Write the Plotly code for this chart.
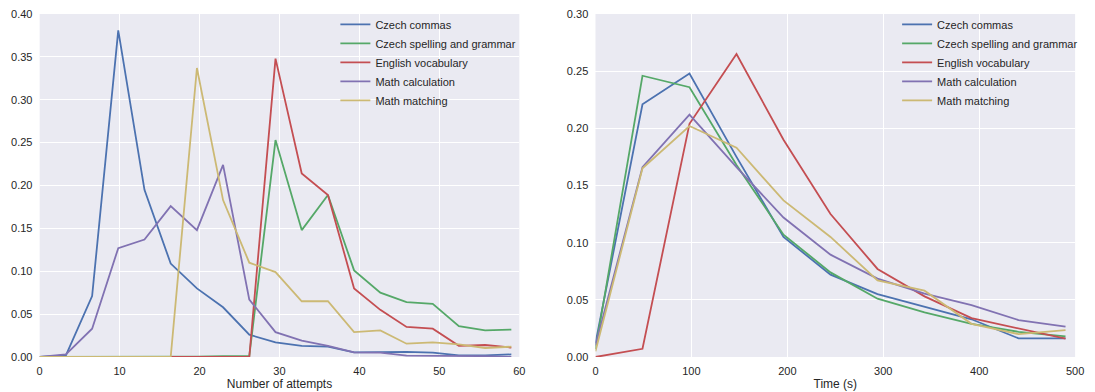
import plotly.graph_objects as go

series_names = ["Czech commas", "Czech spelling and grammar", "English vocabulary",
                "Math calculation", "Math matching"]
colors = ["#4C72B0", "#55A868", "#C44E52", "#8172B2", "#CCB974"]

# Left panel: number of attempts
attempts = [0, 3.28, 6.56, 9.83, 13.11, 16.39, 19.67, 22.94, 26.22, 29.5,
            32.78, 36.06, 39.33, 42.61, 45.89, 49.17, 52.44, 55.72, 59.0]
att_commas = [0.0, 0.002, 0.071, 0.381, 0.195, 0.109, 0.080, 0.058, 0.026, 0.017,
              0.013, 0.012, 0.0055, 0.0055, 0.006, 0.005, 0.002, 0.002, 0.003]
att_spelling = [0.0, 0.0, 0.0, 0.0, 0.0, 0.0, 0.0005, 0.001, 0.001, 0.253,
                0.148, 0.189, 0.101, 0.075, 0.064, 0.062, 0.036, 0.031, 0.032]
att_vocab = [0.0, 0.0, 0.0, 0.0, 0.0, 0.0, 0.0, 0.0, 0.0, 0.348,
             0.214, 0.189, 0.080, 0.055, 0.035, 0.033, 0.013, 0.014, 0.011]
att_calc = [0.0, 0.003, 0.033, 0.127, 0.137, 0.176, 0.148, 0.224, 0.067, 0.029,
            0.019, 0.013, 0.0055, 0.005, 0.0016, 0.0015, 0.001, 0.001, 0.0]
att_matching = [0.0, 0.0, 0.0, 0.0, 0.0, 0.0, 0.337, 0.183, 0.110, 0.099,
                0.065, 0.065, 0.029, 0.031, 0.0155, 0.017, 0.0147, 0.0105, 0.012]

# Right panel: time
times = [0, 49, 98, 147, 196, 245, 294, 343, 392, 441, 490]
time_commas = [0.012, 0.221, 0.248, 0.175, 0.105, 0.072, 0.055, 0.044, 0.033, 0.0163, 0.0163]
time_spelling = [0.007, 0.246, 0.236, 0.168, 0.107, 0.074, 0.051, 0.039, 0.029, 0.022, 0.018]
time_vocab = [0.0, 0.0072, 0.204, 0.265, 0.190, 0.125, 0.077, 0.053, 0.034, 0.025, 0.016]
time_calc = [0.010, 0.166, 0.212, 0.166, 0.122, 0.0895, 0.0686, 0.0555, 0.0453, 0.0323, 0.0265]
time_matching = [0.005, 0.165, 0.202, 0.183, 0.137, 0.105, 0.067, 0.058, 0.029, 0.020, 0.0235]

# tick values
left_xticks = [0, 10, 20, 30, 40, 50, 60]
left_yticks = [0.0, 0.05, 0.10, 0.15, 0.20, 0.25, 0.30, 0.35, 0.40]
right_xticks = [0, 100, 200, 300, 400, 500]
right_yticks = [0.0, 0.05, 0.10, 0.15, 0.20, 0.25, 0.30]

left_y = [att_commas, att_spelling, att_vocab, att_calc, att_matching]
right_y = [time_commas, time_spelling, time_vocab, time_calc, time_matching]

# page has an 8px body margin, so the figure is sized to fit inside the window
W, H = 1087, 384
fig = go.Figure()
for name, c, ys in zip(series_names, colors, left_y):
    fig.add_trace(go.Scatter(x=attempts, y=ys, mode="lines", name=name,
                             line=dict(color=c, width=1.8), xaxis="x", yaxis="y",
                             legend="legend"))
for name, c, ys in zip(series_names, colors, right_y):
    fig.add_trace(go.Scatter(x=times, y=ys, mode="lines", name=name,
                             line=dict(color=c, width=1.8), xaxis="x2", yaxis="y2",
                             legend="legend2"))

font_col = "#262626"
axis_common = dict(showgrid=True, gridcolor="white", gridwidth=1, zeroline=False,
                   showline=False, ticks="outside", ticklen=4, tickcolor="rgba(0,0,0,0)",
                   tickfont=dict(size=11, color=font_col), tickmode="array",
                   ticklabeloverflow="allow")

fig.update_layout(
    width=W, height=H,
    margin=dict(l=0, r=0, t=5, b=35),
    paper_bgcolor="white", plot_bgcolor="#EAEAF2",
    font=dict(family="Liberation Sans, Arial, sans-serif", size=11, color=font_col),
    xaxis=dict(domain=[29 / W, 514 / W], range=[0, 60], tickvals=left_xticks, anchor="y",
               title=dict(text="Number of attempts", font=dict(size=12), standoff=3),
               **axis_common),
    yaxis=dict(domain=[0, 1], range=[0, 0.40], tickvals=left_yticks, tickformat=".2f",
               anchor="x", **axis_common),
    xaxis2=dict(domain=[591 / W, 1076 / W], range=[0, 500], tickvals=right_xticks, anchor="y2",
                title=dict(text="Time (s)", font=dict(size=12), standoff=3),
                **axis_common),
    yaxis2=dict(domain=[0, 1], range=[0, 0.30], tickvals=right_yticks, tickformat=".2f",
                anchor="x2", **axis_common),
    legend=dict(x=328 / W, y=1.012, xanchor="left", yanchor="top",
                bgcolor="rgba(0,0,0,0)", font=dict(size=11, color=font_col),
                itemwidth=30, tracegroupgap=0),
    legend2=dict(x=896 / W, y=1.012, xanchor="left", yanchor="top",
                 bgcolor="rgba(0,0,0,0)", font=dict(size=11, color=font_col),
                 itemwidth=30, tracegroupgap=0),
)

fig.write_html("out.html")
